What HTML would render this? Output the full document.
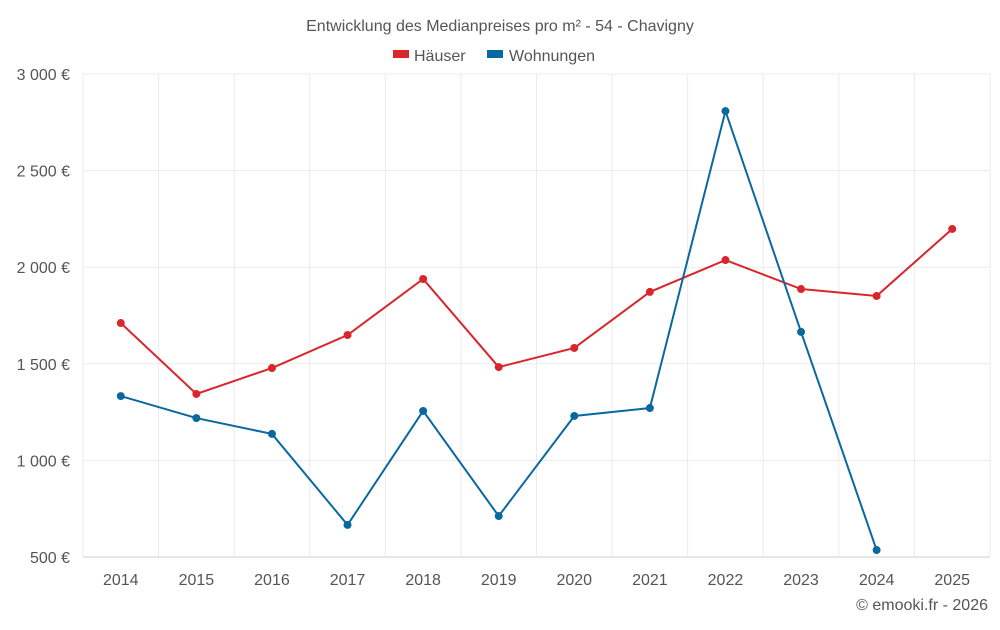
<!DOCTYPE html>
<html><head><meta charset="utf-8"><style>
body{margin:0;background:#fff;font-family:"Liberation Sans",sans-serif}
svg text{font-family:"Liberation Sans",sans-serif;fill:#555}
</style></head><body>
<svg id="c" width="1000" height="625">
<text x="500" y="31" text-anchor="middle" font-size="16">Entwicklung des Medianpreises pro m² - 54 - Chavigny</text>
<g>
<rect x="393" y="50" width="16" height="8" fill="#d9262b"/>
<text x="414" y="61" font-size="16">Häuser</text>
<rect x="487" y="50" width="16" height="8" fill="#0a68a0"/>
<text x="509" y="61" font-size="16">Wohnungen</text>
</g>
<g id="grid"></g><g id="axes"></g><g id="series"></g>
<text x="988" y="610" text-anchor="end" font-size="16">© emooki.fr - 2026</text>
</svg>
<script>
const years=["2014","2015","2016","2017","2018","2019","2020","2021","2022","2023","2024","2025"];
const haeuser=[1711,1344,1478,1649,1939,1483,1582,1872,2037,1887,1851,2198];
const wohnungen=[1333,1219,1137,666,1256,712,1230,1271,2808,1665,536,null];
const yTicks=[500,1000,1500,2000,2500,3000];
const yLabels=["500 €","1 000 €","1 500 €","2 000 €","2 500 €","3 000 €"];
const L=83,R=990,T=74,B=557,ymin=500,ymax=3000;
const step=(R-L)/years.length;
const x=i=>L+step*(i+0.5);
const y=v=>B-(v-ymin)/(ymax-ymin)*(B-T);
const NS="http://www.w3.org/2000/svg";
function mk(t,a,p){const e=document.createElementNS(NS,t);for(const k in a)e.setAttribute(k,a[k]);p.appendChild(e);return e;}
const g=document.getElementById('grid'),ax=document.getElementById('axes'),s=document.getElementById('series');
yTicks.forEach((v,i)=>{
 const l=mk('line',{x1:L,x2:R,y1:y(v),y2:y(v),stroke:i==0?'#ccc':'#ebebeb'},g);
 
 
 const t=mk('text',{x:70,y:y(v)+6,'text-anchor':'end','font-size':16},ax);t.textContent=yLabels[i];
 
 
});
for(let i=0;i<=years.length;i++){
 const l=mk('line',{x1:L+step*i,x2:L+step*i,y1:T,y2:B,stroke:'#ebebeb'},g);
 
 
}
years.forEach((yr,i)=>{
 const t=mk('text',{x:x(i),y:585,'text-anchor':'middle','font-size':16},ax);t.textContent=yr;
 
 
});
function series(data,color,name){
 let d='';data.forEach((v,i)=>{if(v==null)return;d+=(d?'L':'M')+x(i)+','+y(v);});
 const p=mk('path',{d:d,fill:'none',stroke:color,'stroke-width':2},s);
 
 
 data.forEach((v,i)=>{if(v==null)return;
  const c=mk('circle',{cx:x(i),cy:y(v),r:4,fill:color},s);
  
  
 });
}
series(haeuser,'#d9262b','haeuser');
series(wohnungen,'#0a68a0','wohnungen');
</script>
</body></html>
